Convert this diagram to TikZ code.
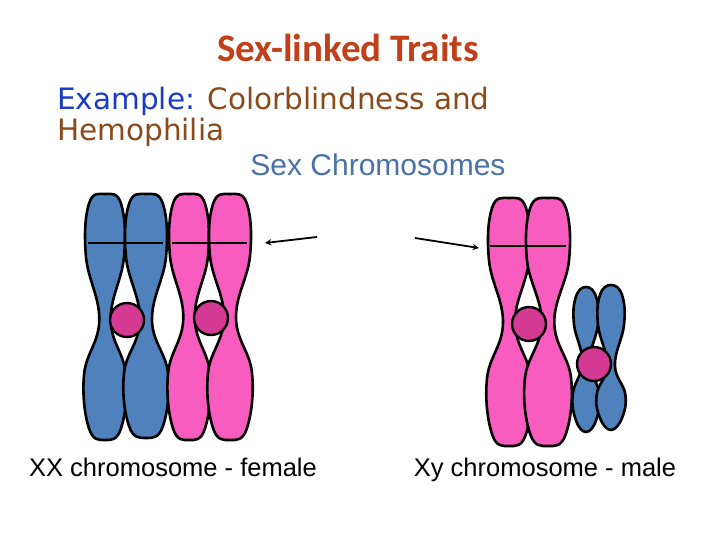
\documentclass[tikz,border=0pt]{standalone}
\usepackage{fontspec}
\setmainfont{Liberation Sans}
\newfontfamily\titlefont{Carlito}
\newfontfamily\exfont{DejaVu Sans}
\definecolor{cblue}{HTML}{4F81BD}
\definecolor{cpink}{HTML}{F95CBF}
\definecolor{cmid}{HTML}{D43A93}
\definecolor{ttl}{HTML}{C0401A}
\definecolor{brn}{HTML}{8B4A1A}
\definecolor{exb}{HTML}{1A3ACC}
\definecolor{sxb}{HTML}{4A72A8}
\newcommand\chromatid[6]{%
\draw[line width=2.6pt,fill=#6,line join=round] plot[smooth cycle,tension=0.7] coordinates {
({#1-0.85*#5},{#2+10}) (#1,#2) ({#1+0.85*#5},{#2+10})
({#1+#5},{(#2+#3)/2}) ({#1+0.3*#5},#3)
({#1+1.1*#5},{#3+0.45*(#4-#3)}) ({#1+0.85*#5},{#4-12}) (#1,#4) ({#1-0.85*#5},{#4-12})
({#1-1.1*#5},{#3+0.45*(#4-#3)}) ({#1-0.3*#5},#3) ({#1-#5},{(#2+#3)/2})};}
\begin{document}
\begin{tikzpicture}[x=1pt,y=-1pt,
 cen/.style={circle,draw,line width=2.4pt,fill=cmid,minimum size=34pt,inner sep=0},
 lbl/.style={font=\fontsize{25.5}{27}\selectfont,anchor=base}]
\useasboundingbox (0,0) rectangle (720,540);
\node[anchor=base,text=ttl,font=\titlefont\bfseries\fontsize{39}{40}\selectfont] (t) at (348,62) {Sex-linked Traits};
\node[anchor=base west,inner sep=0,font=\exfont\fontsize{29.5}{31}\selectfont,text=brn] (ex) at (57,110) {\textcolor{exb}{Example:} Colorblindness and};
\node[anchor=base west,inner sep=0,font=\exfont\fontsize{29.5}{31}\selectfont,text=brn] (hem) at (57,141) {Hemophilia};
\node[anchor=base,text=sxb,font=\fontsize{30}{32}\selectfont] (sc) at (378,176) {Sex Chromosomes};
\chromatid{105}{194}{320}{440}{19}{cblue}
\chromatid{146}{194}{320}{438}{20}{cblue}
\chromatid{189}{194}{318}{440}{19}{cpink}
\chromatid{230}{194}{318}{440}{20}{cpink}
\chromatid{509}{198}{323}{446}{20}{cpink}
\chromatid{548}{198}{323}{446}{21}{cpink}
\chromatid{586}{287}{362}{432}{12}{cblue}
\chromatid{611}{285}{365}{430}{13}{cblue}
\draw[line width=1.6pt] (88,243) -- (163,243) (172,243) -- (247,243) (490,246) -- (566,246);
\node[cen] (c1) at (127,320) {};
\node[cen] (c2) at (211,318) {};
\node[cen] (c3) at (529,324) {};
\node[cen] (c4) at (594,364) {};
\coordinate (a1s) at (317,237); \coordinate (a1e) at (265,243);
\coordinate (a2s) at (415,238); \coordinate (a2e) at (479,248);
\draw[line width=1.8pt,-stealth] (a1s) -- (a1e);
\draw[line width=1.8pt,-stealth] (a2s) -- (a2e);
\node[lbl] (l1) at (173,476) {XX chromosome - female};
\node[lbl] (l2) at (545,476) {Xy chromosome - male};
\end{tikzpicture}
\end{document}
